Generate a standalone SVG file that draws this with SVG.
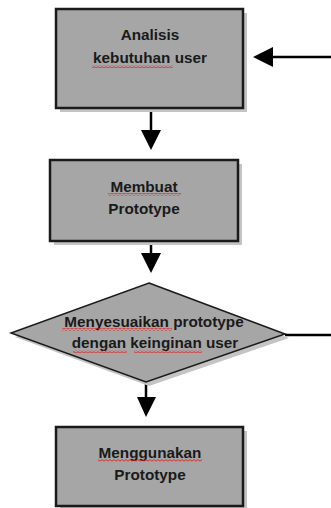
<svg xmlns="http://www.w3.org/2000/svg" width="331" height="508" viewBox="0 0 331 508">
<style>
.box{fill:#a6a6a6;stroke:#1a1a1a;stroke-width:2.5}
.shadow{fill:#c4c4c4;stroke:none}
.t{font-family:"Liberation Sans",Arial,sans-serif;font-weight:bold;font-size:15.3px;fill:#1a1a1a;text-anchor:middle}
.ln{stroke:#000;stroke-width:2.5;fill:none}
.hd{fill:#000}
.wave{fill:url(#wv)}
</style>
<defs>
<pattern id="wv" width="4" height="3" patternUnits="userSpaceOnUse">
<path d="M0,2.2 L2,0.6 L4,2.2" stroke="#e02020" stroke-width="0.9" fill="none"/>
</pattern>
</defs>
<rect width="331" height="508" fill="#fff"/>
<g id="connectors">
<line class="ln" x1="331" y1="57" x2="270" y2="57"/>
<polygon class="hd" points="253,57 273,47 273,67"/>
<line class="ln" x1="151" y1="108" x2="151" y2="132"/>
<polygon class="hd" points="141,130 161,130 151,150"/>
<line class="ln" x1="151" y1="241" x2="151" y2="255"/>
<polygon class="hd" points="141,253 161,253 151,273"/>
<line class="ln" x1="285" y1="335" x2="331" y2="335"/>
<line class="ln" x1="146" y1="382" x2="146" y2="399"/>
<polygon class="hd" points="137,397 156,397 146,417"/>
</g>
<g id="n1">
<rect class="shadow" x="60" y="13" width="187" height="99"/>
<rect class="box" x="56" y="9" width="187" height="99"/>
<text class="t" x="150" y="40">Analisis</text>
<text class="t" x="150" y="63">kebutuhan user</text>
<rect class="wave" x="92" y="65" width="81" height="3"/>
</g>
<g id="n2">
<rect class="shadow" x="54" y="164" width="188" height="81"/>
<rect class="box" x="50" y="160" width="188" height="81"/>
<text class="t" x="144" y="192">Membuat</text>
<text class="t" x="144" y="214">Prototype</text>
<rect class="wave" x="108" y="193" width="73" height="3"/>
</g>
<g id="n3">
<polygon class="shadow" points="152,287 289,338 149,386 15,337"/>
<polygon class="box" style="stroke-width:1.5" points="149,283 285,334 146,382 11,333"/>
<text class="t" x="154" y="327">Menyesuaikan prototype</text>
<text class="t" x="155" y="348">dengan keinginan user</text>
<rect class="wave" x="62" y="328" width="110" height="3"/>
<rect class="wave" x="73" y="350" width="54" height="3"/>
<rect class="wave" x="134" y="350" width="68" height="3"/>
</g>
<g id="n4">
<rect class="shadow" x="60" y="431" width="187" height="79"/>
<rect class="box" x="56" y="427" width="187" height="79"/>
<text class="t" x="150" y="458">Menggunakan</text>
<text class="t" x="150" y="480">Prototype</text>
<rect class="wave" x="98" y="459" width="104" height="3"/>
</g>
</svg>
